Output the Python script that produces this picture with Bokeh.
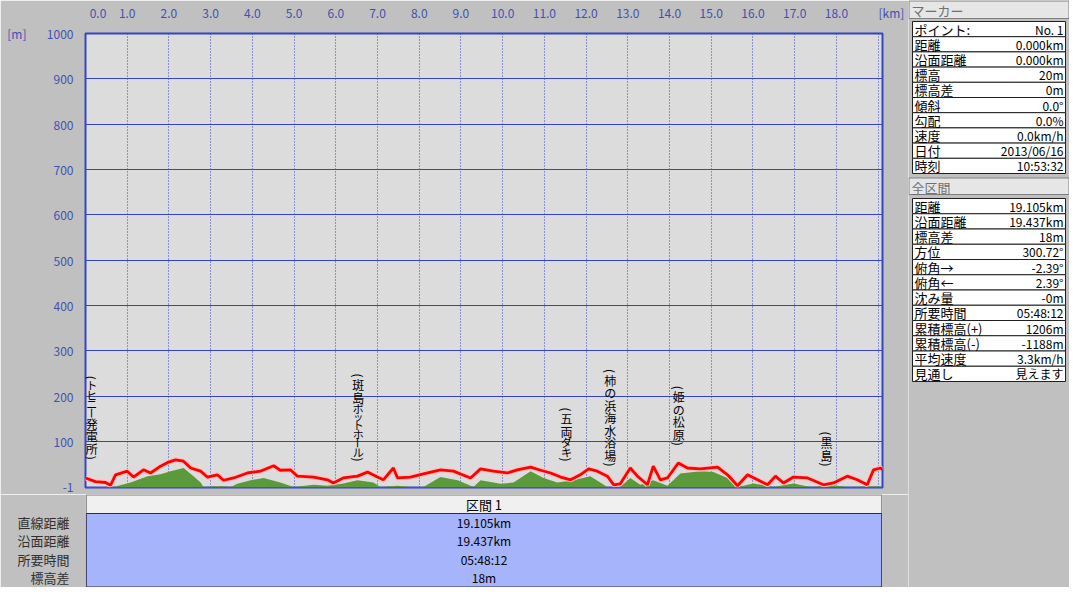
import math
from bokeh.plotting import figure
from bokeh.models import Range1d, FixedTicker, ColumnDataSource, CustomJSTickFormatter
from bokeh.layouts import row, column
from bokeh.embed import file_html
from bokeh.resources import INLINE
from bokeh.core.properties import value

# ---------------- data ----------------
track_km = [0.0, 0.24, 0.48, 0.6, 0.72, 1.0, 1.15, 1.39, 1.56, 1.8, 1.99, 2.16, 2.35, 2.52, 2.76,
            2.92, 3.16, 3.31, 3.55, 3.88, 4.19, 4.51, 4.67, 4.91, 5.08, 5.47, 5.8, 5.94, 6.18, 6.52,
            6.76, 7.0, 7.14, 7.38, 7.48, 7.79, 8.1, 8.51, 8.82, 9.23, 9.47, 9.78, 10.11, 10.35, 10.67,
            10.91, 11.15, 11.39, 11.63, 11.86, 12.06, 12.27, 12.51, 12.66, 12.82, 13.06, 13.23, 13.47,
            13.61, 13.78, 13.95, 14.21, 14.43, 14.74, 15.15, 15.39, 15.63, 15.87, 16.11, 16.35, 16.54,
            16.73, 16.97, 17.31, 17.69, 17.93, 18.26, 18.5, 18.74, 18.89, 19.06, 19.105]
track_elev = [20, 12, 10, 4, 27, 35, 22, 38, 31, 46, 55, 60, 57, 42, 35,
              22, 27, 15, 20, 31, 35, 47, 37, 38, 24, 22, 16, 9, 20, 24,
              33, 22, 16, 42, 20, 22, 29, 38, 35, 20, 40, 35, 31, 38, 44,
              37, 31, 22, 16, 27, 40, 35, 24, 5, 7, 42, 24, 5,
              46, 16, 20, 53, 42, 40, 44, 27, 3, 27, 16, 5, 24,
              9, 22, 20, 5, 9, 24, 16, 5, 38, 42, 38]

terrain_km = [0.0, 0.67, 1.08, 1.49, 1.8, 2.04, 2.35, 2.59, 2.76, 2.83, 3.07, 3.31, 3.48, 3.64, 3.96,
              4.27, 4.67, 4.99, 5.47, 5.8, 6.18, 6.52, 6.9, 7.07, 7.48, 7.79, 8.1, 8.51, 8.92, 9.3,
              9.47, 9.95, 10.26, 10.67, 10.98, 11.31, 11.7, 12.1, 12.51, 12.82, 13.06, 13.3, 13.61,
              13.95, 14.26, 14.74, 15.05, 15.39, 15.63, 16.01, 16.49, 16.97, 17.38, 17.93, 18.26,
              18.98, 19.105]
terrain_elev = [0, 0, 10, 24, 28, 35, 42, 24, 10, 0, 2, 2, 0, 7, 15,
                20, 10, 0, 5, 3, 8, 15, 10, 0, 3, 0, 0, 22, 15, 0,
                15, 7, 10, 35, 20, 10, 15, 24, 0, 0, 20, 5, 15,
                3, 30, 35, 33, 20, 0, 8, 0, 8, 0, 4, 0,
                2, 0]

place_names = ["トヒニー発電所", "斑島ポットホール", "五両ダキ", "柿の浜海水浴場", "姫の松原", "黒島"]
place_km = [0.15, 6.54, 11.53, 12.58, 14.22, 17.76]
place_label_elev = [58, 54, 54, 43, 89, 43]

x_tick_values = list(range(0, 19))
x_unit = "[km]"
y_tick_values = [-1, 100, 200, 300, 400, 500, 600, 700, 800, 900, 1000]
y_unit = "[m]"

section_title = "区間 1"
section_labels = ["直線距離", "沿面距離", "所要時間", "標高差"]
section_values = ["19.105km", "19.437km", "05:48:12", "18m"]

marker_title = "マーカー"
marker_labels = ["ポイント:", "距離", "沿面距離", "標高", "標高差", "傾斜", "勾配", "速度", "日付", "時刻"]
marker_values = ["No. 1", "0.000km", "0.000km", "20m", "0m", "0.0°", "0.0%", "0.0km/h",
                 "2013/06/16", "10:53:32"]

total_title = "全区間"
total_labels = ["距離", "沿面距離", "標高差", "方位", "俯角→", "俯角←", "沈み量", "所要時間",
                "累積標高(+)", "累積標高(-)", "平均速度", "見通し"]
total_values = ["19.105km", "19.437km", "18m", "300.72°", "-2.39°", "2.39°", "-0m", "05:48:12",
                "1206m", "-1188m", "3.3km/h", "見えます"]

# ---------------- styles ----------------
BG = "#c0c0c0"
PLOT_BG = "#dcdcdc"
BLUE = "#3444c4"
TICK_BLUE = "#4050b4"
FONT = "Noto Sans CJK JP"
LEFT_B, RIGHT_B = 85, 26
MAIN_W = 908
X_MAX = 19.105

# ---------------- main profile chart ----------------
p = figure(width=MAIN_W, height=494, output_backend="svg", toolbar_location=None,
           x_range=Range1d(0, X_MAX), y_range=Range1d(-1, 1000),
           x_axis_location="above", y_axis_location="left",
           min_border_left=LEFT_B, min_border_right=RIGHT_B, min_border_top=32, min_border_bottom=7)
p.background_fill_color = PLOT_BG
p.border_fill_color = BG
p.outline_line_color = BLUE
p.outline_line_width = 2

xa = p.xaxis[0]
# first label is nudged inside the frame (as the original does); unit label sits at the right end
xa.ticker = FixedTicker(ticks=[0.3] + x_tick_values[1:] + [X_MAX])
xa.formatter = CustomJSTickFormatter(
    args=dict(xmax=X_MAX, unit="\u2003\u2002" + x_unit),
    code="if (tick >= xmax) { return unit; } return Math.floor(tick).toFixed(1);")
ya = p.yaxis[0]
ya.ticker = FixedTicker(ticks=y_tick_values)
ya.formatter = CustomJSTickFormatter(
    args=dict(ymax=y_tick_values[-1], unit=y_unit + "\u2003\u2002\u2009"),
    code="if (tick >= ymax) { return unit + tick.toFixed(0); } return tick.toFixed(0);")
for ax, standoff in ((xa, 7), (ya, 6)):
    ax.axis_line_color = None
    ax.major_tick_line_color = None
    ax.minor_tick_line_color = None
    ax.major_label_standoff = standoff
    ax.major_label_text_color = TICK_BLUE
    ax.major_label_text_font = FONT
    ax.major_label_text_font_size = "12px"

p.ygrid.ticker = FixedTicker(ticks=y_tick_values[1:-1])
p.ygrid.grid_line_color = BLUE
p.ygrid.grid_line_width = 1
p.xgrid.ticker = FixedTicker(ticks=x_tick_values + [19])
p.xgrid.grid_line_color = BLUE
p.xgrid.grid_line_dash = "1 2"

p.varea(x=terrain_km, y1=[-1] * len(terrain_km), y2=terrain_elev, fill_color="#5b9a3b")
p.line(track_km, track_elev, line_color="#ffc0c0", line_width=5)
p.line(track_km, track_elev, line_color="#ff0000", line_width=2.8)

# vertical (tategaki) place names, one glyph per character
def char_style(c):
    # returns (advance px, font size, angle)
    if c in "()":
        return 6, "12px", -math.pi / 2
    if c == "ー":
        return 8, "11px", -math.pi / 2
    if c == "ッ":
        return 7, "10px", 0.0
    if "\u30a0" <= c <= "\u30ff":
        return 9.5, "11px", 0.0
    return 12.5, "12px", 0.0

cx, cy, coff, ctext, csize, cang = [], [], [], [], [], []
for name, km, base in zip(place_names, place_km, place_label_elev):
    chars = ["("] + list(name) + [")"]
    below = 0.0
    for c in reversed(chars):
        h, fs, ang = char_style(c)
        cx.append(km)
        cy.append(base)
        coff.append(-(below + h / 2))
        ctext.append(c)
        csize.append(fs)
        cang.append(ang)
        below += h
src = ColumnDataSource(dict(x=cx, y=cy, off=coff, text=ctext, size=csize, angle=cang))
p.text(x="x", y="y", text="text", y_offset="off", angle="angle", source=src, text_align="center",
       text_baseline="middle", text_font=value(FONT), text_font_size="size", text_color="#000000")

# ---------------- section table (below chart) ----------------
T_H = 93            # figure height in px
ROW_PX = 18.3       # row pitch in px
FIRST_ROW_PX = 28   # first row centre from top in px
HEAD_PX = 19        # header bottom from top in px
def px_to_row(px):
    return 1 + (px - FIRST_ROW_PX) / ROW_PX

t = figure(width=MAIN_W, height=T_H, output_backend="svg", toolbar_location=None,
           x_range=Range1d(0, 1), y_range=Range1d(px_to_row(T_H), px_to_row(0)),
           x_axis_location=None, y_axis_location="left",
           min_border_left=LEFT_B, min_border_right=RIGHT_B, min_border_top=0, min_border_bottom=0)
t.grid.visible = False
t.background_fill_color = BG
t.border_fill_color = BG
t.outline_line_color = None
n_rows = len(section_labels)
row_pos = list(range(1, n_rows + 1))
ta = t.yaxis[0]
ta.ticker = FixedTicker(ticks=row_pos)
ta.major_label_overrides = {i: lab for i, lab in zip(row_pos, section_labels)}
ta.axis_line_color = None
ta.major_tick_line_color = None
ta.minor_tick_line_color = None
ta.major_label_standoff = 10
ta.major_label_text_font = FONT
ta.major_label_text_font_size = "13px"
ta.major_label_text_color = "#303030"

t.quad(left=0.001, right=0.999, top=px_to_row(0.5), bottom=px_to_row(HEAD_PX),
       fill_color="#f0f0f0", line_color="#7a7a7a", line_width=1)
t.quad(left=0.001, right=0.999, top=px_to_row(HEAD_PX), bottom=px_to_row(T_H - 0.5),
       fill_color="#a6b5fb", line_color="#2a2a50", line_width=1)
t.text(x=[0.5], y=[px_to_row(HEAD_PX / 2)], text=[section_title], text_align="center",
       text_baseline="middle", text_font=value(FONT), text_font_size="13px", text_color="#000000")
t.text(x=[0.5] * n_rows, y=row_pos, text=section_values, text_align="center",
       text_baseline="middle", text_font=value(FONT), text_font_size="12px", text_color="#000000")

# ---------------- right information panel ----------------
Q_W = 161
q = figure(width=Q_W, height=587, output_backend="svg", toolbar_location=None,
           x_range=Range1d(0, Q_W), y_range=Range1d(587, 0),
           x_axis_location=None, y_axis_location=None, min_border=0)
q.grid.visible = False
q.background_fill_color = BG
q.border_fill_color = BG
q.outline_line_color = None

def panel_block(title, labels, values, head_top, head_bot, tab_top, tab_bot):
    q.quad(left=0.5, right=Q_W - 0.5, top=head_top + 0.5, bottom=head_bot, fill_color="#e6e6e6",
           line_color="#808080", line_width=1)
    q.text(x=[3], y=[(head_top + head_bot) / 2 + 1], text=[title], text_align="left",
           text_baseline="middle", text_font=value(FONT), text_font_size="13px", text_color="#707070")
    n = len(labels)
    h = (tab_bot - tab_top) / n
    tops = [tab_top + i * h for i in range(n)]
    q.quad(left=[4] * n, right=[Q_W - 4] * n, top=tops, bottom=[tt + h for tt in tops],
           fill_color="#ffffff", line_color="#202020", line_width=1)
    mids = [tt + h / 2 for tt in tops]
    q.text(x=[6] * n, y=mids, text=labels, text_align="left", text_baseline="middle",
           text_font=value(FONT), text_font_size="13px", text_color="#000000")
    q.text(x=[Q_W - 6] * n, y=mids, text=values, text_align="right", text_baseline="middle",
           text_font=value(FONT), text_font_size="12px", text_color="#000000")

panel_block(marker_title, marker_labels, marker_values, 0, 18, 21, 173)
panel_block(total_title, total_labels, total_values, 177, 194, 198, 381)

layout = row(column(p, t), q)
open("out.html", "w").write(file_html(layout, INLINE))
